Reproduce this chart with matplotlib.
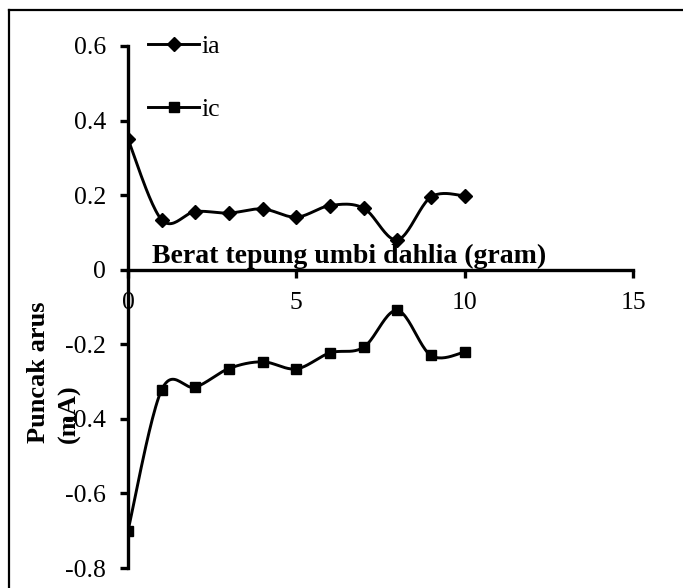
import numpy as np
import matplotlib
matplotlib.use('Agg')
import matplotlib.pyplot as plt
from matplotlib.lines import Line2D

# data
weight = [0, 1, 2, 3, 4, 5, 6, 7, 8, 9, 10]
ia = [0.35, 0.134, 0.156, 0.152, 0.163, 0.141, 0.172, 0.165, 0.080, 0.195, 0.198]
ic = [-0.700, -0.322, -0.315, -0.265, -0.247, -0.266, -0.223, -0.208, -0.109, -0.230, -0.221]

xticks = [0, 5, 10, 15]
yticks = [-0.8, -0.6, -0.4, -0.2, 0, 0.2, 0.4, 0.6]
ytick_labels = ['-0.8', '-0.6', '-0.4', '-0.2', '0', '0.2', '0.4', '0.6']


def smooth(x, y, n=25):
    # excel style smoothed line (catmull-rom as cubic bezier)
    pts = np.column_stack([x, y]).astype(float)
    P = np.vstack([pts[0], pts, pts[-1]])
    out = []
    t = np.linspace(0, 1, n)[:, None]
    for i in range(1, len(P) - 2):
        p0, p1, p2, p3 = P[i - 1], P[i], P[i + 1], P[i + 2]
        c1 = p1 + (p2 - p0) / 6
        c2 = p2 - (p3 - p1) / 6
        seg = (1 - t)**3 * p1 + 3 * (1 - t)**2 * t * c1 + 3 * (1 - t) * t**2 * c2 + t**3 * p2
        out.append(seg if i == 1 else seg[1:])
    return np.vstack(out)


plt.rcParams['font.family'] = ['Liberation Serif', 'DejaVu Serif']

fig = plt.figure(figsize=(6.83, 5.88), dpi=100)
ax = fig.add_axes([0.1874, 0.034, 0.7394, 0.8878])

sa = smooth(weight, ia)
sc = smooth(weight, ic)
ax.plot(sa[:, 0], sa[:, 1], color='black', lw=2.1, zorder=3)
ax.plot(sc[:, 0], sc[:, 1], color='black', lw=2.1, zorder=3)
ax.plot(weight, ia, ls='none', marker='D', ms=7.5, color='black', zorder=4)
ax.plot(weight, ic, ls='none', marker='s', ms=7.5, color='black', zorder=4)

ax.set_xlim(0, 15)
ax.set_ylim(-0.8, 0.6)
ax.spines['top'].set_visible(False)
ax.spines['right'].set_visible(False)
ax.spines['left'].set_position(('data', 0))
ax.spines['bottom'].set_position(('data', 0))
ax.spines['left'].set_linewidth(2.4)
ax.spines['bottom'].set_linewidth(2.4)
ax.spines['left'].set_zorder(5)

ax.set_xticks(xticks)
ax.set_yticks(yticks)
ax.set_yticklabels(ytick_labels)
ax.tick_params(axis='y', direction='out', length=6, width=2.4, pad=10, labelsize=18.5)
ax.tick_params(axis='x', direction='out', length=6, width=2.4, pad=10, labelsize=18.5)

ax.text(0.71, 0.019, 'Berat tepung umbi dahlia (gram)', fontsize=20, fontweight='bold',
        ha='left', va='baseline')

fig.text(0.079, 0.2466, 'Puncak arus\n(mA)', fontsize=19, fontweight='bold', rotation=90,
         ha='center', va='bottom', multialignment='left', linespacing=1.45)

handles = [Line2D([], [], color='black', lw=2.1, marker='D', ms=7.5),
           Line2D([], [], color='black', lw=2.1, marker='s', ms=7.5)]
fig.legend(handles, ['ia', 'ic'], loc='upper left', bbox_to_anchor=(0.2167, 0.94),
           frameon=False, fontsize=18.5, handlelength=2.0, handletextpad=0.1,
           labelspacing=1.55, borderpad=0, borderaxespad=0)

# frame of the original picture (top and left edges)
fig.add_artist(Line2D([9 / 683, 9 / 683], [0, 1 - 10 / 588], color='black', lw=1.6,
                      transform=fig.transFigure))
fig.add_artist(Line2D([9 / 683, 1], [1 - 10 / 588, 1 - 10 / 588], color='black', lw=1.6,
                      transform=fig.transFigure))

fig.savefig('out.png', dpi=100)
